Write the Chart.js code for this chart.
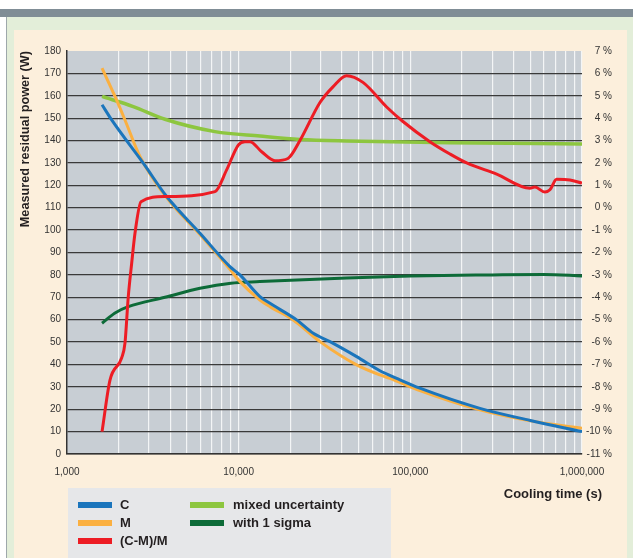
<!DOCTYPE html>
<html>
<head>
<meta charset="utf-8">
<script src="https://cdn.jsdelivr.net/npm/chart.js@4.4.0/dist/chart.umd.min.js"></script>
<style>
  body { margin: 0; background: #fff; font-family: 'Liberation Sans', Arial, sans-serif; }
  #page { position: relative; width: 633px; height: 558px; overflow: hidden; }
  .topbar { position: absolute; left: 0; top: 9px; width: 633px; height: 8px; background: #808d96; }
  .frame { position: absolute; left: 6px; top: 17px; width: 627px; height: 541px; background: #e3eed9; border-left: 1px solid #9ea8ab; }
  .panel { position: absolute; left: 14px; top: 30px; width: 613px; height: 528px; background: #fcefdc; }
  .legendbox { position: absolute; left: 68px; top: 488px; width: 323px; height: 70px; background: #e6e7e9; }
  #wrap { position: absolute; left: 0; top: 0; width: 633px; height: 558px; }
  .item { position: absolute; font-weight: bold; font-size: 13px; color: #231f20; line-height: 16px; }
  .sw { position: absolute; width: 34px; height: 6px; }
  .xtitle { position: absolute; right: 31px; top: 486px; font-weight: bold; font-size: 13px; color: #231f20; }
</style>
</head>
<body>
<div id="page">
  <div class="topbar"></div>
  <div class="frame"></div>
  <div class="panel"></div>
  <div class="legendbox"></div>
  <div id="wrap"><canvas id="myChart" width="633" height="558"></canvas></div>
  <div class="xtitle">Cooling time (s)</div>
  <div id="legend"></div>
</div>
<script>
// cooling time (s) and values
const cTime = [1600, 1821, 2782, 3808, 5953, 8894, 10176, 13300, 15216, 21770, 27200, 34010, 48670, 66530, 83240, 113700, 254300, 500000, 1000000];
const cPower = [156, 149.2, 129.9, 115, 98.6, 83.7, 80, 70.3, 67.3, 59.9, 53.9, 50.2, 43.5, 37.2, 33.8, 29.4, 20.4, 15, 10];

const mTime = [1600, 1904, 2176, 2660, 3808, 5953, 8894, 10176, 13300, 15216, 20800, 29760, 48670, 66530, 76040, 113700, 254300, 500000, 1000000];
const mPower = [172.3, 159.7, 149.2, 132.9, 114.5, 98, 82.5, 77, 68.8, 65.8, 59.9, 50.2, 39.8, 35.3, 33.8, 28.3, 19.7, 14.8, 11.5];

const diffTime = [1600, 1780, 2083, 2176, 2275, 2381, 2489, 2698, 3722, 7278, 8511, 9947, 10880, 11636, 13610, 16270, 19370, 22750, 29760, 35420, 42560, 52970, 72780, 90570, 130000, 170100, 212900, 318300, 497600, 531900, 608300, 650400, 711300, 850000, 1000000];
const diffPct = [-10.0, -7.7, -6.7, -6.05, -3.97, -2.48, -1.14, 0.27, 0.5, 0.72, 1.69, 2.8, 2.95, 2.95, 2.5, 2.1, 2.2, 3.0, 4.7, 5.4, 5.9, 5.6, 4.5, 3.85, 2.95, 2.4, 2.0, 1.5, 0.87, 0.92, 0.7, 0.8, 1.27, 1.24, 1.1];

const mixedTime = [1600, 2432, 3722, 7278, 13300, 22750, 42560, 170100, 1000000];
const mixedPct = [4.97, 4.52, 3.95, 3.4, 3.2, 3.05, 2.98, 2.9, 2.85];

const sigmaTime = [1600, 1904, 2275, 3722, 5953, 9000, 13300, 42560, 100000, 300000, 600000, 1000000];
const sigmaPct = [-5.16, -4.7, -4.42, -4.0, -3.6, -3.37, -3.3, -3.14, -3.05, -3.0, -2.98, -3.05];

const xLabels = [1000, 10000, 100000, 1000000];
const legendCol1 = ['C', 'M', '(C-M)/M'];
const legendCol2 = ['mixed uncertainty', 'with 1 sigma'];
const colors = { C: '#1b75bc', M: '#fbb040', '(C-M)/M': '#ed1c24', 'mixed uncertainty': '#8dc63f', 'with 1 sigma': '#0d6b38' };

function toPoints(xs, ys) {
    return xs.map(function (x, i) { return { x: x, y: ys[i] }; });
}

// minor grid 1..9 per decade
var xGrid = [];
for (var d = 1000; d < 1000000; d *= 10) {
    for (var k = 1; k < 10; k++) xGrid.push(k * d);
}
xGrid.push(1000000);

const plotBg = {
    id: 'plotBg',
    beforeDraw(chart) {
        const a = chart.chartArea;
        chart.ctx.save();
        chart.ctx.fillStyle = '#c8ced4';
        chart.ctx.fillRect(a.left, a.top, a.right - a.left, a.bottom - a.top);
        chart.ctx.restore();
    }
};

const tickFont = { family: "'Liberation Sans', Arial, sans-serif", size: 10 };

function line(label, pts, axis, width, order) {
    return {
        label: label,
        data: pts,
        yAxisID: axis,
        borderColor: colors[label],
        backgroundColor: colors[label],
        borderWidth: width,
        pointRadius: 0,
        cubicInterpolationMode: 'monotone',
        fill: false,
        order: order
    };
}

const config = {
    type: 'line',
    data: {
        datasets: [
            line('C', toPoints(cTime, cPower), 'y', 3, 2),
            line('M', toPoints(mTime, mPower), 'y', 3, 3),
            line('(C-M)/M', toPoints(diffTime, diffPct), 'y2', 3, 1),
            line('mixed uncertainty', toPoints(mixedTime, mixedPct), 'y2', 3.5, 5),
            line('with 1 sigma', toPoints(sigmaTime, sigmaPct), 'y2', 3, 4)
        ]
    },
    options: {
        responsive: false,
        animation: false,
        layout: { padding: { left: 14, right: 21, top: 51, bottom: 74 } },
        plugins: { legend: { display: false }, tooltip: { enabled: false } },
        scales: {
            x: {
                type: 'logarithmic',
                min: 1000,
                max: 1000000,
                afterBuildTicks: function (scale) {
                    scale.ticks = xGrid.map(function (v) { return { value: v }; });
                },
                afterFit: function (scale) { scale.height = 30; },
                grid: { color: '#f3f5f6', lineWidth: 1.2, drawTicks: false, z: -2 },
                border: { display: true, color: '#333', width: 1.5 },
                ticks: {
                    autoSkip: false,
                    maxRotation: 0,
                    padding: 12,
                    color: '#333',
                    font: tickFont,
                    callback: function (value) {
                        return xLabels.includes(value) ? value.toLocaleString('en-US') : '';
                    }
                }
            },
            y: {
                position: 'left',
                min: 0,
                max: 180,
                afterFit: function (scale) { scale.width = 53; },
                grid: {
                    color: function (ctx) { return ctx.tick.value === 180 ? 'rgba(0,0,0,0)' : '#3a3a3a'; },
                    lineWidth: 1.3,
                    drawTicks: false,
                    z: -1
                },
                border: { display: true, color: '#333', width: 1.5 },
                ticks: { stepSize: 10, padding: 6, color: '#333', font: tickFont },
                title: {
                    display: true,
                    text: 'Measured residual power (W)',
                    align: 'end',
                    color: '#231f20',
                    padding: { top: 4, bottom: 0 },
                    font: { family: "'Liberation Sans', Arial, sans-serif", size: 12.7, weight: 'bold' }
                }
            },
            y2: {
                position: 'right',
                min: -11,
                max: 7,
                afterFit: function (scale) { scale.width = 30; },
                grid: { display: false, drawTicks: false },
                border: { display: false },
                ticks: {
                    stepSize: 1,
                    padding: 4,
                    crossAlign: 'far',
                    color: '#333',
                    font: tickFont,
                    callback: function (v) { return v + ' %'; }
                }
            }
        }
    },
    plugins: [plotBg]
};

const chart = new Chart(document.getElementById('myChart'), config);

// legend in two columns, like the original panel
var legendHtml = '';
legendCol1.forEach(function (name, i) {
    var y = 502 + i * 18;
    legendHtml += '<div class="sw" style="left:78px;top:' + y + 'px;background:' + colors[name] + '"></div>';
    legendHtml += '<div class="item" style="left:120px;top:' + (y - 5) + 'px">' + name + '</div>';
});
legendCol2.forEach(function (name, i) {
    var y = 502 + i * 18;
    legendHtml += '<div class="sw" style="left:190px;top:' + y + 'px;background:' + colors[name] + '"></div>';
    legendHtml += '<div class="item" style="left:233px;top:' + (y - 5) + 'px">' + name + '</div>';
});
document.getElementById('legend').innerHTML = legendHtml;
</script>
</body>
</html>
